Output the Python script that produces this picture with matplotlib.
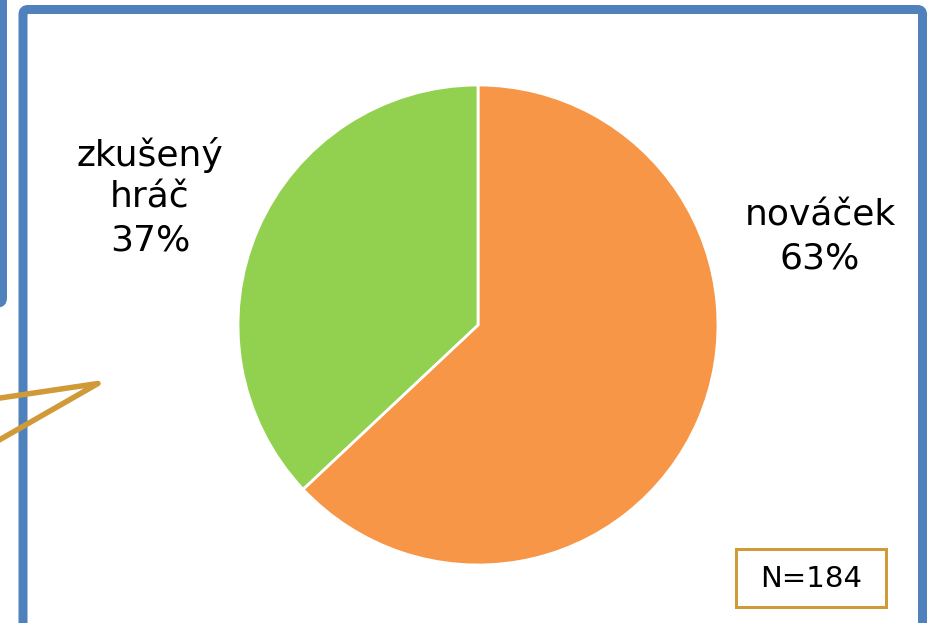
"""Pie chart: novacek vs zkuseny hrac, with the slide frame around it."""
import matplotlib
matplotlib.use("Agg")
import matplotlib.pyplot as plt
from matplotlib.patches import FancyBboxPatch, Rectangle

labels = ["nováček", "zkušený\nhráč"]
shares = [63, 37]
colors = ["#F79646", "#92D050"]
note = "N=184"

W, H = 930, 623
BLUE = "#4F81BD"
GOLD = "#D09A38"
PT = 0.72  # points per pixel at dpi 100


def Y(y):
    # picture rows run downwards, axes run upwards
    return H - y


fig = plt.figure(figsize=(W / 100, H / 100), dpi=100)
ax = fig.add_axes([0, 0, 1, 1])

# frame of the neighbouring box (only its right edge shows)
ax.add_patch(FancyBboxPatch((-200, Y(304)), 203.5, 400, boxstyle="round,pad=0,rounding_size=6",
                            fill=False, ec=BLUE, lw=7 * PT, zorder=1))
# main frame, its bottom edge sits just below the picture
ax.add_patch(FancyBboxPatch((23, Y(628)), 922.5 - 23, 628 - 9.5,
                            boxstyle="round,pad=0,rounding_size=5",
                            fill=False, ec=BLUE, lw=9 * PT, zorder=1))

# callout pointer coming in from the left
ax.plot([-20, 98, -20], [Y(401), Y(383.5), Y(451)], color=GOLD, lw=5.5 * PT,
        solid_joinstyle="round", solid_capstyle="round", zorder=3)

wedges, _ = ax.pie(shares, colors=colors, startangle=90, counterclock=False,
                   center=(478, Y(325)), radius=240, frame=True,
                   wedgeprops=dict(edgecolor="white", linewidth=2))
ax.set_xlim(0, W); ax.set_ylim(0, H)
ax.set_aspect("equal"); ax.axis("off")

ax.text(820, Y(237), "%s\n%d%%" % (labels[0], shares[0]), ha="center", va="center",
        fontsize=26, linespacing=1.3, color="black")
ax.text(150, Y(197), "%s\n%d%%" % (labels[1], shares[1]), ha="center", va="center",
        fontsize=26, linespacing=1.3, color="black")

ax.add_patch(Rectangle((736, Y(607)), 150, 58, fill=False, ec=GOLD, lw=3 * PT, zorder=4))
ax.text(811, Y(579), note, ha="center", va="center", fontsize=21, color="black")

fig.savefig("out.png", dpi=100)
